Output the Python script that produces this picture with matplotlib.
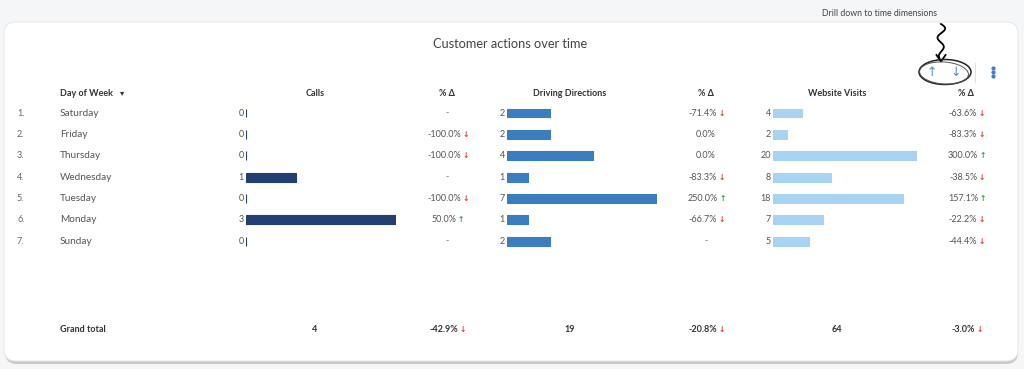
import matplotlib.pyplot as plt
from matplotlib.patches import FancyBboxPatch, Ellipse
import numpy as np

plt.rcParams['font.family'] = ['Lato', 'DejaVu Sans']

# datos de la tabla
days = ["Saturday", "Friday", "Thursday", "Wednesday", "Tuesday", "Monday", "Sunday"]
calls = [0, 0, 0, 1, 0, 3, 0]
calls_delta = [None, -100.0, -100.0, None, -100.0, 50.0, None]
directions = [2, 2, 4, 1, 7, 1, 2]
directions_delta = [-71.4, 0.0, 0.0, -83.3, 250.0, -66.7, None]
visits = [4, 2, 20, 8, 18, 7, 5]
visits_delta = [-63.6, -83.3, 300.0, -38.5, 157.1, -22.2, -44.4]
totals = [4, 19, 64]
totals_delta = [-42.9, -20.8, -3.0]

W, H = 1024, 369
fig = plt.figure(figsize=(W / 100, H / 100), dpi=100)
fig.patch.set_facecolor("#f5f6f8")

ax = fig.add_axes([0, 0, 1, 1])
ax.set_xlim(0, W)
ax.set_ylim(H, 0)
ax.axis("off")

# tarjeta con sombra
ax.add_patch(FancyBboxPatch((5, 25), 1013, 339, boxstyle="round,pad=0,rounding_size=12",
                            fc="#c9c9c9", ec="none", zorder=0))
ax.add_patch(FancyBboxPatch((4, 22), 1014, 339, boxstyle="round,pad=0,rounding_size=12",
                            fc="white", ec="#e4e4e4", lw=0.6, zorder=1))

ax.text(510, 44, "Customer actions over time", ha="center", va="center",
        fontsize=9.2, color="#444444", zorder=3)

# anotación y controles
ax.text(880, 13, "Drill down to time dimensions", ha="center", va="center",
        fontsize=6.3, color="#444444", zorder=3)
t = np.linspace(0, 1, 80)
sx = 941 + 4.5 * np.sin(t * 4 * np.pi) * (1 - 0.6 * t)
sy = 24 + 37 * t
ax.plot(sx, sy, color="black", lw=1.3, zorder=4)
ax.plot([936.5, 941, 945.5], [55, 61.5, 55], color="black", lw=1.3, zorder=4)
ax.add_patch(Ellipse((945, 72), 52, 25, fill=False, ec="#222222", lw=1.1, zorder=4))
ax.add_patch(Ellipse((944, 73), 49, 22, angle=4, fill=False, ec="#555555", lw=0.7, zorder=4))
ax.text(932, 72, "↑", ha="center", va="center", fontsize=9, color="#4a8fd8",
        family="DejaVu Sans", zorder=4)
ax.text(956, 72, "↓", ha="center", va="center", fontsize=9, color="#4a8fd8",
        family="DejaVu Sans", zorder=4)
ax.plot([975, 975], [63, 82], color="#e0e0e0", lw=0.8, zorder=3)
for dy in (-4, 0, 4):
    ax.plot(993, 72 + dy, "o", ms=2, color="#3d7fd0", zorder=4)

# cabeceras
head_y = 93
hdr = dict(va="center", fontsize=6.5, fontweight="bold", color="#333333", zorder=3)
ax.text(60, head_y, "Day of Week", ha="left", **hdr)
ax.text(120, head_y, "▾", ha="left", va="center", fontsize=6, color="#333333",
        family="DejaVu Sans", zorder=3)
col_centers = [315, 570, 837]
delta_centers = [447, 706, 966]
for c, name in zip(col_centers, ["Calls", "Driving Directions", "Website Visits"]):
    ax.text(c, head_y, name, ha="center", **hdr)
for c in delta_centers:
    ax.text(c, head_y, "% Δ", ha="center", **hdr)

row0, step = 113, 21.35
rows_y = [row0 + i * step for i in range(len(days))]

for i, (d, y) in enumerate(zip(days, rows_y)):
    ax.text(17, y, f"{i + 1}.", ha="left", va="center", fontsize=6.5, color="#666666", zorder=3)
    ax.text(60, y, d, ha="left", va="center", fontsize=7.2, color="#555555", zorder=3)

fig.canvas.draw()
renderer = fig.canvas.get_renderer()


def delta_text(x, y, v, bold=False):
    fw = "bold" if bold else "normal"
    col = "#333333" if bold else "#555555"
    if v is None:
        ax.text(x, y, "-", ha="center", va="center", fontsize=6.5, color="#777777", zorder=3)
        return
    s = f"{v:.1f}%"
    if v == 0:
        ax.text(x, y, s, ha="center", va="center", fontsize=6.5, color=col,
                fontweight=fw, zorder=3)
        return
    tx = ax.text(x - 3, y, s, ha="center", va="center", fontsize=6.5, color=col,
                 fontweight=fw, zorder=3)
    w = tx.get_window_extent(renderer).width
    arrow = "↑" if v > 0 else "↓"
    acol = "#2e9a4a" if v > 0 else "#e53935"
    ax.text(x - 3 + w / 2 + 1.5, y, arrow, ha="left", va="center", fontsize=5.5,
            fontweight="bold", color=acol, family="DejaVu Sans", zorder=3)


# barras por métrica
bar_specs = [
    (calls, calls_delta, 246, 150, 3, "#213f73"),
    (directions, directions_delta, 507, 150, 7, "#3b7dbf"),
    (visits, visits_delta, 773, 144, 20, "#a8d4f2"),
]
top = rows_y[0] - step / 2
span = step * len(days)
for k, (vals, deltas, x0, wpx, vmax, color) in enumerate(bar_specs):
    bax = fig.add_axes([x0 / W, (H - top - span) / H, wpx / W, span / H])
    bax.set_xlim(0, vmax)
    bax.set_ylim(len(days) - 0.5, -0.5)
    bax.axis("off")
    bax.patch.set_alpha(0)
    bax.barh(range(len(vals)), vals, height=0.42, color=color, edgecolor=color, lw=0.8)
    for v, dlt, y in zip(vals, deltas, rows_y):
        ax.text(x0 - 2, y, str(v), ha="right", va="center", fontsize=6.5,
                color="#555555", zorder=3)
        delta_text(delta_centers[k], y, dlt)

# total general
ty = 330
ax.text(60, ty, "Grand total", ha="left", va="center", fontsize=6.5,
        fontweight="bold", color="#333333", zorder=3)
for c, v in zip(col_centers, totals):
    ax.text(c, ty, str(v), ha="center", va="center", fontsize=6.5,
            fontweight="bold", color="#333333", zorder=3)
for c, v in zip(delta_centers, totals_delta):
    delta_text(c, ty, v, bold=True)

fig.savefig("out.png", dpi=100, facecolor=fig.get_facecolor())
